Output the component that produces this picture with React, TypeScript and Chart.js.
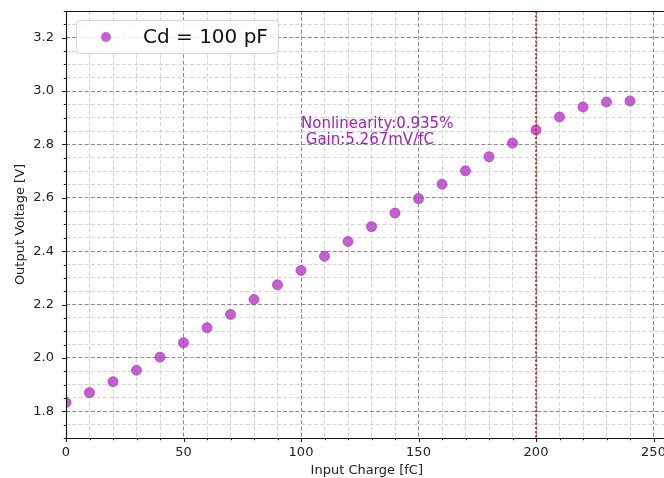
import { useEffect, useRef } from "react";
import { Chart, registerables } from "chart.js";

Chart.register(...registerables);

// ---- data ----
const charge = [0, 10, 20, 30, 40, 50, 60, 70, 80, 90, 100, 110, 120, 130, 140, 150, 160, 170, 180, 190, 200, 210, 220, 230, 240];
const voltage = [1.833, 1.870, 1.911, 1.954, 2.003, 2.057, 2.113, 2.163, 2.219, 2.274, 2.328, 2.381, 2.436, 2.492, 2.543, 2.597, 2.651, 2.701, 2.754, 2.805, 2.854, 2.903, 2.940, 2.959, 2.963];

const xMajorTicks = [0, 50, 100, 150, 200, 250];
const xMinorTicks = [0, 10, 20, 30, 40, 50, 60, 70, 80, 90, 100, 110, 120, 130, 140, 150, 160, 170, 180, 190, 200, 210, 220, 230, 240, 250];
const yMajorTicks = [1.8, 2.0, 2.2, 2.4, 2.6, 2.8, 3.0, 3.2];
const yMinorTicks = [1.7, 1.75, 1.8, 1.85, 1.9, 1.95, 2.0, 2.05, 2.1, 2.15, 2.2, 2.25, 2.3, 2.35, 2.4, 2.45, 2.5, 2.55, 2.6, 2.65, 2.7, 2.75, 2.8, 2.85, 2.9, 2.95, 3.0, 3.05, 3.1, 3.15, 3.2, 3.25, 3.3];

const xLimits = [0, 256];
const yLimits = [1.7, 3.3];

const seriesLabel = "Cd = 100 pF";
const xTitle = "Input Charge [fC]";
const yTitle = "Output Voltage [V]";
const annotationLines = ["Nonlinearity:0.935%", " Gain:5.267mV/fC"];
const annotationAnchor = { x: 100, y: 2.8 };
const thresholdCharge = 200;

const FONT = "'DejaVu Sans', sans-serif";
const MARKER_FILL = "rgba(182, 56, 200, 0.8)";
const MARKER_EDGE = "rgba(170, 45, 190, 0.85)";
const TEXT_COLOR = "#a01ec0";

const isMajor = (list: number[], v: number) => list.some((m) => Math.abs(m - v) < 1e-6);

const decorPlugin = {
  id: "decor",
  beforeDatasetsDraw(chart: any) {
    // tick marks
    const { ctx, chartArea, scales } = chart;
    const xs = scales.x;
    const ys = scales.y;
    ctx.save();
    ctx.strokeStyle = "#000";
    ctx.lineWidth = 0.9;
    ctx.setLineDash([]);
    xMinorTicks.forEach((v) => {
      const px = Math.round(xs.getPixelForValue(v)) + 0.5;
      const len = isMajor(xMajorTicks, v) ? 4 : 2.2;
      ctx.beginPath();
      ctx.moveTo(px, chartArea.bottom);
      ctx.lineTo(px, chartArea.bottom + len);
      ctx.stroke();
    });
    yMinorTicks.forEach((v) => {
      const py = Math.round(ys.getPixelForValue(v)) + 0.5;
      const len = isMajor(yMajorTicks, v) ? 4 : 2.2;
      ctx.beginPath();
      ctx.moveTo(chartArea.left, py);
      ctx.lineTo(chartArea.left - len, py);
      ctx.stroke();
    });
    ctx.restore();
  },
  afterDatasetsDraw(chart: any) {
    const { ctx, chartArea, scales } = chart;
    const xs = scales.x;
    const ys = scales.y;
    ctx.save();
    // threshold line
    const tx = xs.getPixelForValue(thresholdCharge);
    ctx.strokeStyle = "#ff0000";
    ctx.lineWidth = 1.6;
    ctx.setLineDash([2.2, 2]);
    ctx.beginPath();
    ctx.moveTo(tx, chartArea.top);
    ctx.lineTo(tx, chartArea.bottom);
    ctx.stroke();
    ctx.setLineDash([]);

    // spines
    ctx.strokeStyle = "#111";
    ctx.lineWidth = 1.1;
    ctx.beginPath();
    ctx.moveTo(chartArea.left, chartArea.top + 0.5);
    ctx.lineTo(chartArea.right + 2, chartArea.top + 0.5);
    ctx.moveTo(chartArea.left + 0.5, chartArea.top);
    ctx.lineTo(chartArea.left + 0.5, chartArea.bottom);
    ctx.moveTo(chartArea.left, chartArea.bottom + 0.5);
    ctx.lineTo(chartArea.right + 2, chartArea.bottom + 0.5);
    ctx.stroke();

    // annotation
    const ax = xs.getPixelForValue(annotationAnchor.x);
    const ay = ys.getPixelForValue(annotationAnchor.y);
    ctx.fillStyle = TEXT_COLOR;
    ctx.font = `15px ${FONT}`;
    ctx.textAlign = "left";
    ctx.textBaseline = "alphabetic";
    ctx.fillText(annotationLines[0], ax, ay - 16);
    ctx.fillText(annotationLines[1], ax, ay);

    // legend
    const lx = chartArea.left + 10.5;
    const ly = chartArea.top + 9.5;
    const lw = 202;
    const lh = 33;
    ctx.beginPath();
    ctx.roundRect(lx, ly, lw, lh, 4);
    ctx.fillStyle = "rgba(255,255,255,0.85)";
    ctx.fill();
    ctx.strokeStyle = "#d6d6d6";
    ctx.lineWidth = 1;
    ctx.stroke();
    ctx.beginPath();
    ctx.arc(lx + 29.5, ly + lh / 2, 5, 0, Math.PI * 2);
    ctx.fillStyle = MARKER_FILL;
    ctx.fill();
    ctx.fillStyle = "#111";
    ctx.font = `20px ${FONT}`;
    ctx.textBaseline = "middle";
    ctx.fillText(seriesLabel, lx + 66.5, ly + lh / 2 + 1);
    ctx.restore();
  },
};

export default function App() {
  const canvasRef = useRef<HTMLCanvasElement | null>(null);

  useEffect(() => {
    if (!canvasRef.current) return;
    const chart = new Chart(canvasRef.current, {
      type: "scatter",
      data: {
        datasets: [
          {
            label: seriesLabel,
            data: charge.map((x, i) => ({ x, y: voltage[i] })),
            pointRadius: 5,
            pointHoverRadius: 5,
            backgroundColor: MARKER_FILL,
            borderColor: MARKER_EDGE,
            borderWidth: 0.8,
          },
        ],
      },
      options: {
        responsive: false,
        maintainAspectRatio: false,
        animation: false,
        devicePixelRatio: 1,
        layout: { padding: { top: 11, right: 32.4, left: 0, bottom: 0 } },
        plugins: { legend: { display: false }, tooltip: { enabled: false } },
        scales: {
          x: {
            type: "linear",
            min: xLimits[0],
            max: xLimits[1],
            afterBuildTicks: (s: any) => {
              s.ticks = xMinorTicks.map((v) => ({ value: v }));
            },
            afterFit: (s: any) => {
              s.height = 40;
              s.paddingLeft = 0;
              s.paddingRight = 0;
            },
            ticks: {
              autoSkip: false,
              maxRotation: 0,
              padding: 7,
              color: "#222",
              font: { family: FONT, size: 13 },
              callback: (v: any) => (isMajor(xMajorTicks, Number(v)) ? String(v) : ""),
            },
            grid: {
              drawTicks: false,
              lineWidth: 1,
              color: (c: any) => (isMajor(xMajorTicks, c.tick?.value) ? "#8c8c8c" : "#d5d5d5"),
            },
            border: { display: false, dash: [4, 2.2] },
            title: {
              display: true,
              text: xTitle,
              color: "#222",
              font: { family: FONT, size: 13 },
              padding: { top: 1, bottom: 0 },
            },
          },
          y: {
            type: "linear",
            min: yLimits[0],
            max: yLimits[1],
            afterBuildTicks: (s: any) => {
              s.ticks = yMinorTicks.map((v) => ({ value: v }));
            },
            afterFit: (s: any) => {
              s.width = 66;
              s.paddingTop = 0;
              s.paddingBottom = 0;
            },
            ticks: {
              autoSkip: false,
              padding: 12,
              color: "#222",
              font: { family: FONT, size: 13 },
              callback: (v: any) => (isMajor(yMajorTicks, Number(v)) ? Number(v).toFixed(1) : ""),
            },
            grid: {
              drawTicks: false,
              lineWidth: 1,
              color: (c: any) => (isMajor(yMajorTicks, c.tick?.value) ? "#8c8c8c" : "#d5d5d5"),
            },
            border: { display: false, dash: [4, 2.2] },
            title: {
              display: true,
              text: yTitle,
              color: "#222",
              font: { family: FONT, size: 13 },
              padding: { top: 13, bottom: 0 },
            },
          },
        },
      },
      plugins: [decorPlugin],
    });
    return () => chart.destroy();
  }, []);

  return (
    <div style={{ position: "absolute", left: 0, top: 0, width: 664, height: 478, overflow: "hidden", background: "#fff" }}>
      <canvas ref={canvasRef} width={700} height={478} style={{ display: "block", width: 700, height: 478 }} />
    </div>
  );
}
